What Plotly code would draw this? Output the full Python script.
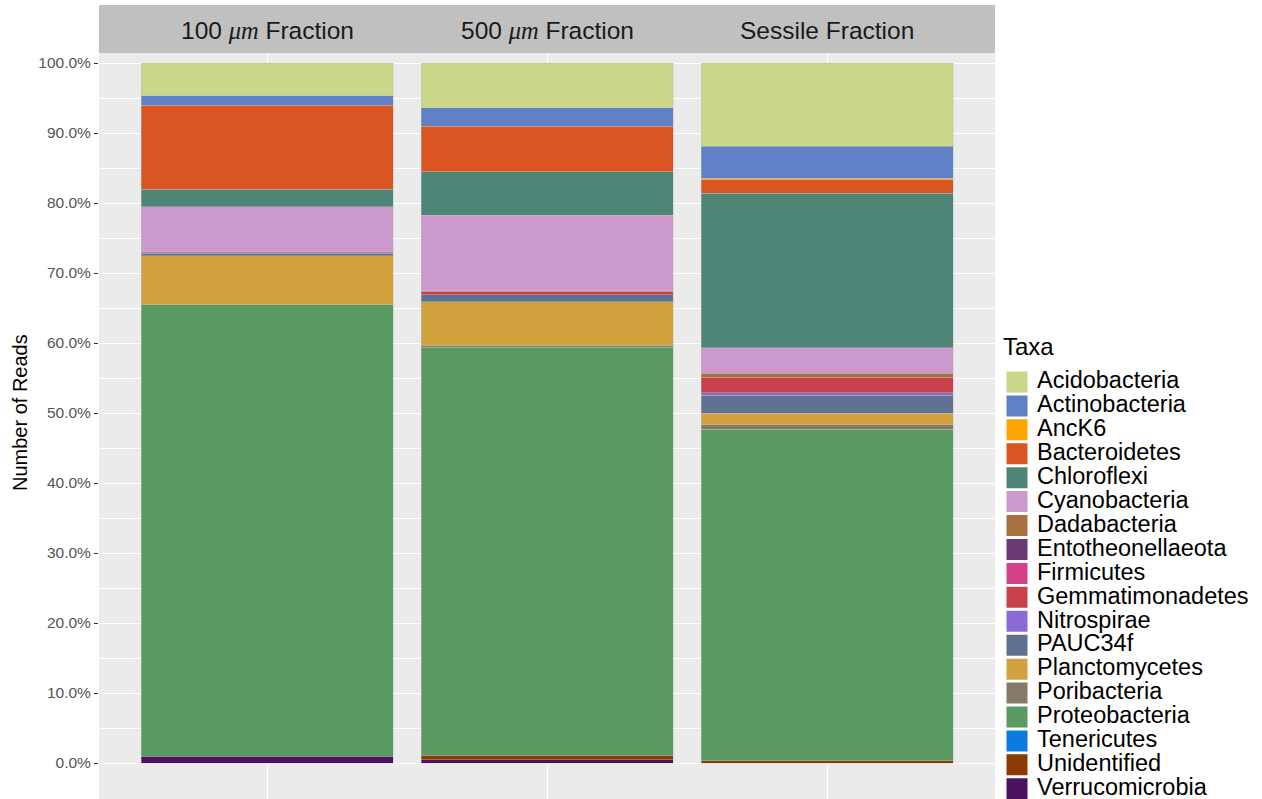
import plotly.graph_objects as go

# Relative abundance (% of reads) per phylum in each fraction
samples = ["100 µm", "500 µm", "Sessile"]
strip_labels = [
    "100 <span style=\"font-family:'Liberation Serif',serif\"><i>μm</i></span> Fraction",
    "500 <span style=\"font-family:'Liberation Serif',serif\"><i>μm</i></span> Fraction",
    "Sessile Fraction",
]
taxa = [
    "Acidobacteria", "Actinobacteria", "AncK6", "Bacteroidetes", "Chloroflexi",
    "Cyanobacteria", "Dadabacteria", "Entotheonellaeota", "Firmicutes",
    "Gemmatimonadetes", "Nitrospirae", "PAUC34f", "Planctomycetes",
    "Poribacteria", "Proteobacteria", "Tenericutes", "Unidentified",
    "Verrucomicrobia",
]
frac_100 = [4.70, 1.30, 0.00, 12.05, 2.48, 6.41, 0.00, 0.00, 0.15,
            0.10, 0.00, 0.38, 7.00, 0.00, 64.43, 0.00, 0.00, 1.00]
frac_500 = [6.38, 2.62, 0.00, 6.48, 6.23, 10.77, 0.14, 0.00, 0.00,
            0.50, 0.00, 1.00, 6.24, 0.20, 58.28, 0.00, 0.71, 0.43]
frac_sessile = [11.86, 4.57, 0.24, 1.90, 22.05, 3.67, 0.57, 0.00, 0.00,
                2.24, 0.33, 2.57, 1.67, 0.62, 47.38, 0.00, 0.29, 0.00]
colors = [
    "#CAD688", "#6080C8", "#FFA500", "#D95623", "#4E8577", "#CC99CC",
    "#A8703F", "#6B3A73", "#D4408A", "#C8414A", "#8A6AD6", "#5E7290",
    "#D2A23E", "#857A66", "#589A62", "#0A7BE0", "#8B3A00", "#4B125E",
]
y_ticks = [0, 10, 20, 30, 40, 50, 60, 70, 80, 90, 100]

# Plot-area geometry (pixels) used for paper-coordinate placement
PLOT_TOP, PLOT_BOTTOM, PLOT_LEFT, PLOT_RIGHT = 53, 799, 99, 995
PLOT_H = PLOT_BOTTOM - PLOT_TOP
PLOT_W = PLOT_RIGHT - PLOT_LEFT


def px_y(y):
    return (PLOT_BOTTOM - y) / PLOT_H


def px_x(x):
    return (x - PLOT_LEFT) / PLOT_W


fig = go.Figure()

# Stacked bars: the last taxon sits at the bottom, the first at the top
for i in reversed(range(len(taxa))):
    vals = [frac_100[i], frac_500[i], frac_sessile[i]]
    vals = [v if v > 0 else None for v in vals]
    fig.add_trace(go.Bar(
        x=samples, y=vals, name=taxa[i], legendgroup=taxa[i],
        showlegend=False, width=0.9,
        marker=dict(color=colors[i],
                    line=dict(color="rgba(190,190,190,0.7)", width=0.6)),
    ))

# Legend keys as filled squares
for name, col in zip(taxa, colors):
    fig.add_trace(go.Scatter(
        x=[None], y=[None], mode="markers", legendgroup=name,
        name=f'<span style="font-size:23.5px">{name}</span>',
        marker=dict(symbol="square", size=16, color=col,
                    line=dict(color=col, width=5)),
    ))

# Facet strip across the top of the panel
fig.add_shape(type="rect", xref="paper", yref="paper",
              x0=0, x1=1, y0=1.0, y1=px_y(5),
              fillcolor="#C0C0C0", line=dict(width=0), layer="below")
for s, lab in zip(samples, strip_labels):
    fig.add_annotation(x=s, xref="x", y=px_y(30), yref="paper",
                       text=lab, showarrow=False,
                       font=dict(size=24.5, color="#1A1A1A"),
                       yanchor="middle")

# Legend heading
fig.add_annotation(x=px_x(1001), xref="paper", y=px_y(330.5), yref="paper",
                   text="Taxa", showarrow=False, xanchor="left",
                   yanchor="top", font=dict(size=24, color="black"))

# Y-axis title, centred on the 0-100 % span
fig.add_annotation(x=px_x(20), xref="paper", y=px_y(413), yref="paper",
                   text="Number of Reads", showarrow=False, textangle=-90,
                   xanchor="center", yanchor="middle",
                   font=dict(size=20, color="black"))

font_family = "Liberation Sans, Arial, Helvetica, sans-serif"
fig.update_layout(
    width=1262, height=799,
    margin=dict(l=PLOT_LEFT, r=1262 - PLOT_RIGHT, t=PLOT_TOP, b=0,
                autoexpand=False),
    paper_bgcolor="white", plot_bgcolor="#EBEBEB",
    barmode="stack", bargap=0.1,
    font=dict(family=font_family, color="black"),
    showlegend=True,
    legend=dict(
        font=dict(size=16.1, color="black"),
        traceorder="normal", itemsizing="trace",
        x=px_x(997), xanchor="left", y=px_y(365), yanchor="top",
        bgcolor="rgba(0,0,0,0)", borderwidth=0,
    ),
    xaxis=dict(
        type="category", range=[-0.6, 2.6], automargin=False,
        showgrid=True, gridcolor="white", gridwidth=1.1,
        showticklabels=False, ticks="outside", ticklen=4,
        tickcolor="#333333", zeroline=False, showline=False,
    ),
    yaxis=dict(
        range=[-36 / 7, 100 + 10 / 7], automargin=False,
        tickvals=y_ticks,
        ticktext=[f"{v:.1f}%" for v in y_ticks],
        tickfont=dict(size=15.5, color="#555555"),
        ticks="outside", ticklen=4, tickcolor="#333333", tickwidth=1,
        showgrid=True, gridcolor="white", gridwidth=1.1,
        minor=dict(dtick=5, tick0=0, showgrid=True, gridcolor="white",
                   gridwidth=0.5, ticks=""),
        zeroline=False, showline=False,
    ),
)

fig.write_html("out.html")
